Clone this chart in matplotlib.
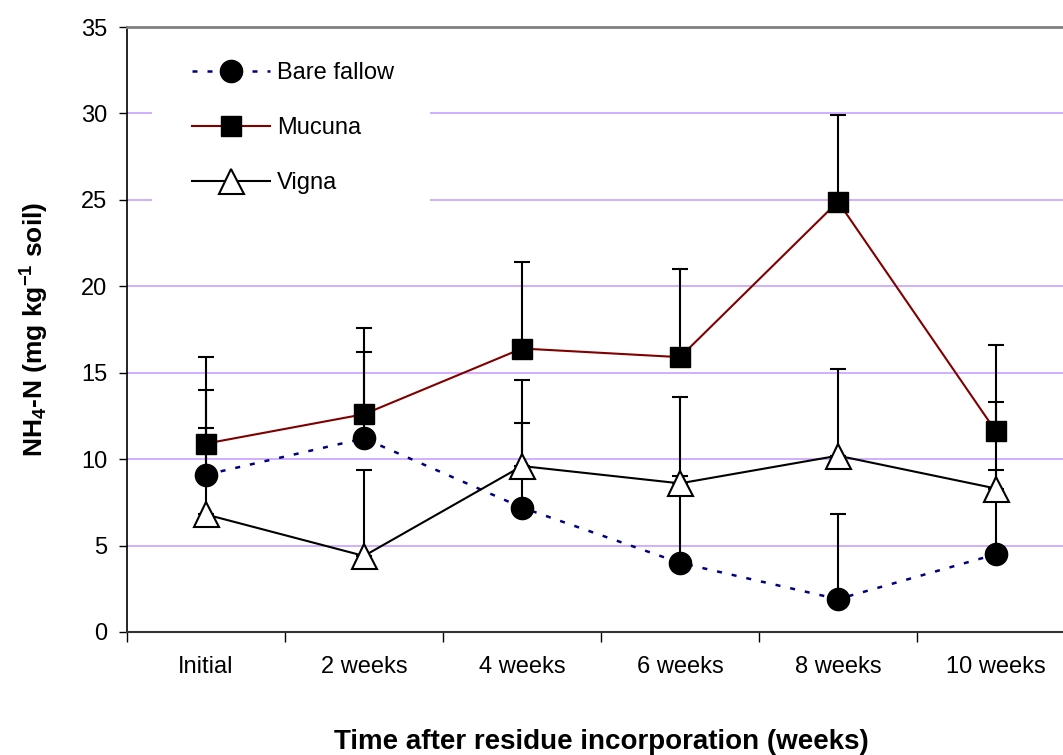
import matplotlib
matplotlib.use("Agg")
import matplotlib.pyplot as plt
from matplotlib import rcParams
from matplotlib.patches import Rectangle
from matplotlib.transforms import blended_transform_factory

# Plot styling
rcParams["font.family"] = ["Liberation Sans", "DejaVu Sans"]
rcParams["font.size"] = 17
rcParams["mathtext.fontset"] = "custom"
rcParams["mathtext.rm"] = "Liberation Sans:bold"
rcParams["mathtext.it"] = "Liberation Sans:bold"
rcParams["mathtext.bf"] = "Liberation Sans:bold"

# Data
weeks = ["Initial", "2 weeks", "4 weeks", "6 weeks", "8 weeks", "10 weeks"]
bare_fallow = [9.1, 11.2, 7.2, 4.0, 1.9, 4.5]
bare_fallow_err = [4.9, 5.0, 4.9, 5.0, 4.9, 4.9]
mucuna = [10.9, 12.6, 16.4, 15.9, 24.9, 11.6]
mucuna_err = [5.0, 5.0, 5.0, 5.1, 5.0, 5.0]
vigna = [6.8, 4.4, 9.6, 8.6, 10.2, 8.3]
vigna_err = [5.0, 5.0, 5.0, 5.0, 5.0, 5.0]
y_ticks = [0, 5, 10, 15, 20, 25, 30, 35]

W, H = 1063, 755
fig = plt.figure(figsize=(W / 100, H / 100), dpi=100)
ax = fig.add_axes([127 / W, 1 - 632 / H, 948 / W, 605 / H])

x = [i + 0.5 for i in range(len(weeks))]

# gridlines
for yv in y_ticks[1:-1]:
    ax.axhline(yv, color="#cfa8ff", linewidth=1.3, zorder=0)

# white box behind the legend (hides the gridlines there)
ax.add_patch(Rectangle((25 / 948, 21.5), 278 / 948, 12.3,
                       transform=blended_transform_factory(ax.transAxes, ax.transData),
                       facecolor="white", edgecolor="none", zorder=1))

# error bars (upper only)
eb_kw = dict(fmt="none", ecolor="black", elinewidth=1.5, capsize=5.5, capthick=1.5, zorder=2)
ax.errorbar(x, bare_fallow, yerr=[[0] * 6, bare_fallow_err], **eb_kw)
ax.errorbar(x, mucuna, yerr=[[0] * 6, mucuna_err], **eb_kw)
ax.errorbar(x, vigna, yerr=[[0] * 6, vigna_err], **eb_kw)

ax.plot(x, bare_fallow, color="#000080", linestyle=(0, (2, 4)), linewidth=1.8,
        marker="o", markersize=16, markerfacecolor="black", markeredgecolor="black",
        label="Bare fallow", zorder=3)
ax.plot(x, mucuna, color="#800000", linestyle="-", linewidth=1.5,
        marker="s", markersize=15, markerfacecolor="black", markeredgecolor="black",
        label="Mucuna", zorder=3)
ax.plot(x, vigna, color="black", linestyle="-", linewidth=1.5,
        marker="^", markersize=18, markerfacecolor="white", markeredgecolor="black",
        markeredgewidth=1.5, label="Vigna", zorder=3)

ax.set_xlim(0, 6)
ax.set_ylim(0, 35)
ax.set_yticks(y_ticks)
ax.set_xticks(range(7))
ax.set_xticklabels([])
ax.set_xticks(x, minor=True)
ax.set_xticklabels(weeks, minor=True)
ax.tick_params(axis="x", which="major", direction="out", length=7, width=1)
ax.tick_params(axis="x", which="minor", length=0, pad=17, labelsize=17)
ax.tick_params(axis="y", direction="out", length=6, width=1, labelsize=17, pad=8)

ax.spines["right"].set_visible(False)
ax.spines["top"].set_color("#808080")
ax.spines["top"].set_linewidth(2)
ax.spines["left"].set_linewidth(1.2)
ax.spines["bottom"].set_color("#333333")
ax.spines["bottom"].set_linewidth(1.5)

ax.set_ylabel(r"NH$_4$-N (mg kg$^{-1}$ soil)", fontsize=19, fontweight="bold", labelpad=22)
ax.set_xlabel("Time after residue incorporation (weeks)", fontsize=20, fontweight="bold", labelpad=37)

leg = ax.legend(loc="upper left", bbox_to_anchor=(65 / 948, 0.942), frameon=False,
                fontsize=17, handlelength=3.3, handletextpad=0.3, labelspacing=1.4,
                borderpad=0, borderaxespad=0)
leg.set_zorder(5)

fig.savefig("out.png", dpi=100)
